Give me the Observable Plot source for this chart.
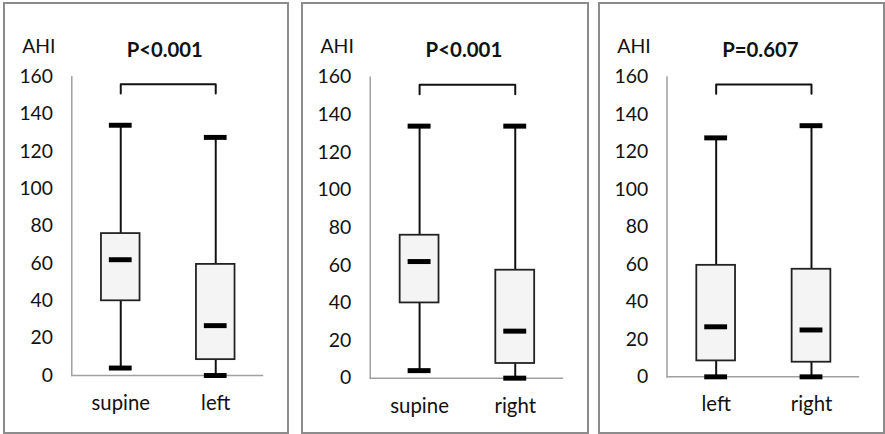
<!DOCTYPE html>
<html><head><meta charset="utf-8">
<script src="https://cdn.jsdelivr.net/npm/d3@7"></script>
<script src="https://cdn.jsdelivr.net/npm/@observablehq/plot@0.6"></script>
<style>
body{margin:0;background:#fff;width:885px;height:434px;position:relative;overflow:hidden;font-family:Lato,sans-serif;}
.panel{position:absolute;top:2px;height:432px;box-sizing:border-box;border:2px solid #8c8c8c;}
.panel svg{position:absolute;left:-2px;top:-2px;overflow:visible;}
</style></head><body>
<div id="p0" class="panel" style="left:3px;width:286px"></div>
<div id="p1" class="panel" style="left:301px;width:288px"></div>
<div id="p2" class="panel" style="left:598px;width:287px"></div>
<script>
// Data
const positions = ["supine", "left", "right"];
const whiskerLow = [4, 0, 0];
const quartile1 = [40, 8.5, 7.8];
const medians = [62, 26.7, 25];
const quartile3 = [76, 59.5, 57.4];
const whiskerHigh = [134, 127.5, 134];
const panelGroups = [["supine", "left"], ["supine", "right"], ["left", "right"]];
const pLabels = ["P<0.001", "P<0.001", "P=0.607"];
const yTicks = [0, 20, 40, 60, 80, 100, 120, 140, 160];
const yLabel = "AHI";
const bracketTop = 156;
const bracketFoot = 151;

panelGroups.forEach((cats, i) => {
  const rows = cats.map(c => {
    const k = positions.indexOf(c);
    return {pos: c, lo: whiskerLow[k], q1: quartile1[k], med: medians[k], q3: quartile3[k], hi: whiskerHigh[k]};
  });
  const bracket = [
    {pos: cats[0], v: bracketFoot}, {pos: cats[0], v: bracketTop},
    {pos: cats[1], v: bracketTop}, {pos: cats[1], v: bracketFoot}
  ];
  const chart = Plot.plot({
    width: 285, height: 432,
    marginLeft: 69, marginRight: 22, marginTop: 75, marginBottom: 55,
    style: {fontFamily: "Lato, sans-serif", fontSize: "19px", color: "#111", background: "transparent"},
    x: {domain: cats, paddingInner: 0.594, paddingOuter: 0.307, label: null},
    y: {domain: [0, 160], label: null},
    marks: [
      Plot.frame({anchor: "left", stroke: "#a0a0a0", strokeWidth: 1.5}),
      Plot.ruleY([0], {stroke: "#a0a0a0", strokeWidth: 1.5}),
      Plot.axisY({ticks: yTicks, tickSize: 0, tickPadding: 19, label: null, fontSize: 19.5}),
      Plot.axisX({tickSize: 0, tickPadding: 20, label: null, fontSize: 20.5}),
      Plot.ruleX(rows, {x: "pos", y1: "lo", y2: "q1", stroke: "#111", strokeWidth: 2}),
      Plot.ruleX(rows, {x: "pos", y1: "q3", y2: "hi", stroke: "#111", strokeWidth: 2}),
      Plot.barY(rows, {x: "pos", y1: "q1", y2: "q3", fill: "#f4f4f4", stroke: "#222", strokeWidth: 1.8}),
      Plot.tickY(rows, {x: "pos", y: "med", stroke: "#000", strokeWidth: 5, insetLeft: 8, insetRight: 8}),
      Plot.tickY(rows, {x: "pos", y: "lo", stroke: "#000", strokeWidth: 5, insetLeft: 8, insetRight: 8}),
      Plot.tickY(rows, {x: "pos", y: "hi", stroke: "#000", strokeWidth: 5, insetLeft: 8, insetRight: 8}),
      Plot.line(bracket, {x: "pos", y: "v", stroke: "#111", strokeWidth: 2, curve: "linear"}),
      Plot.text([pLabels[i]], {frameAnchor: "top", lineAnchor: "middle", dx: -3, dy: -26.5, fontWeight: "bold", fontSize: 20.5, fill: "#111"}),
      Plot.text([yLabel], {frameAnchor: "top-left", textAnchor: "start", lineAnchor: "middle", dx: -50, dy: -30.5, fontSize: 19.5, fill: "#111"})
    ]
  });
  document.getElementById("p" + i).appendChild(chart);
});
</script>
</body></html>
